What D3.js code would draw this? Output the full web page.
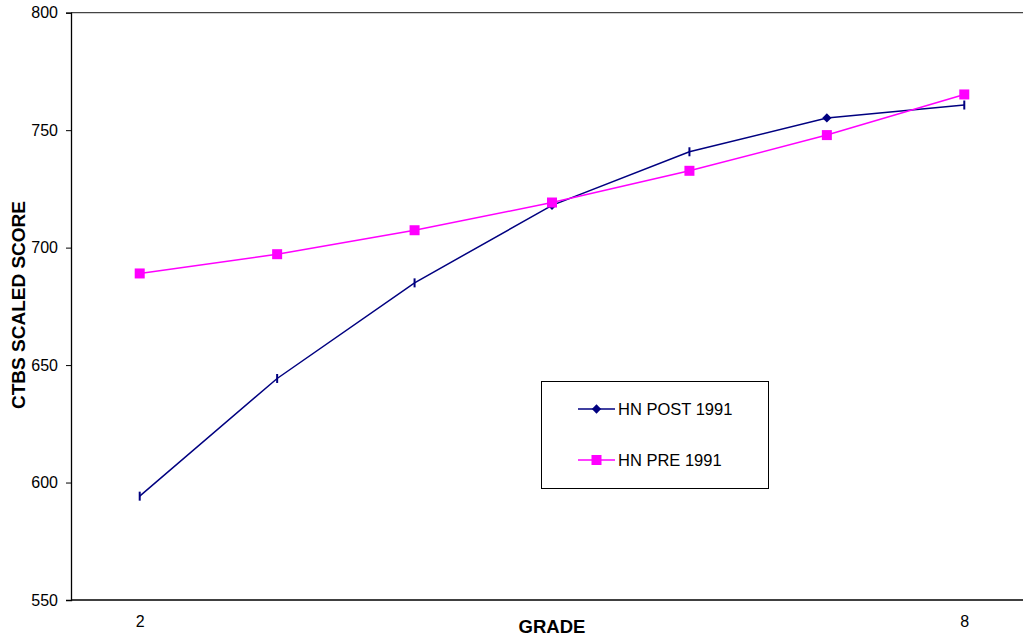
<!DOCTYPE html>
<html><head><meta charset="utf-8">
<script src="https://cdn.jsdelivr.net/npm/d3@7"></script>
<style>body{margin:0;background:#fff}svg{display:block}text{font-family:"Liberation Sans",Arial,sans-serif}</style>
</head><body>
<script>
const grades = ["2","3","4","5","6","7","8"];
const postValues = [594.2, 644.3, 685.0, 718.0, 740.8, 755.2, 760.7];
const preValues = [689.0, 697.2, 707.4, 719.2, 732.7, 747.9, 765.2];
const postMarkers = ["tick","tick","tick","diamond","tick","diamond","tick"];
const yTicks = [550, 600, 650, 700, 750, 800];
const xTickLabels = ["2","8"];
const seriesNames = ["HN POST 1991","HN PRE 1991"];

const W = 1023, H = 640;
const svg = d3.select("body").append("svg").attr("width", W).attr("height", H);
const pLeft = 71, pTop = 12.7, pBottom = 600, pRight = 1033;
const x = d3.scalePoint().domain(grades).range([pLeft, pRight]).padding(0.5);
const y = d3.scaleLinear().domain([550, 800]).range([pBottom, pTop]);

// top border
svg.append("line").attr("x1", pLeft).attr("x2", W).attr("y1", pTop).attr("y2", pTop)
  .attr("stroke", "#444").attr("stroke-width", 1.2);

// y axis
const yAxis = svg.append("g").attr("transform", `translate(${pLeft},0)`)
  .call(d3.axisLeft(y).tickValues(yTicks).tickSize(5).tickPadding(8).tickFormat(d3.format("d")));
yAxis.select(".domain").attr("stroke", "#000").attr("stroke-width", 1.3);
yAxis.selectAll("text").attr("font-size", 16).attr("fill", "#000");

// x axis
const xAxis = svg.append("g").attr("transform", `translate(0,${pBottom})`)
  .call(d3.axisBottom(x).tickValues(xTickLabels).tickSize(0).tickPadding(16));
xAxis.select(".domain").attr("stroke", "#000").attr("stroke-width", 1.3).attr("d", `M${pLeft},0H${W}`);
xAxis.selectAll("text").attr("font-size", 16).attr("fill", "#000");

svg.append("text").attr("x", (x("5"))).attr("y", 633).attr("text-anchor", "middle")
  .attr("font-size", 18.5).attr("font-weight", "bold").text("GRADE");
svg.append("text").attr("transform", `translate(25,305) rotate(-90)`).attr("text-anchor", "middle")
  .attr("font-size", 19).attr("font-weight", "bold").text("CTBS SCALED SCORE");

const line = d3.line().x((d, i) => x(grades[i])).y(d => y(d));
const navy = "#000080", mag = "#FF00FF";

svg.append("path").datum(postValues).attr("d", line).attr("fill", "none").attr("stroke", navy).attr("stroke-width", 1.5);
svg.append("path").datum(preValues).attr("d", line).attr("fill", "none").attr("stroke", mag).attr("stroke-width", 1.5);

const diamond = d3.symbol().type(d3.symbolDiamond2).size(55);
postValues.forEach((v, i) => {
  const cx = x(grades[i]), cy = y(v);
  if (postMarkers[i] === "diamond") {
    svg.append("path").attr("d", diamond()).attr("transform", `translate(${cx},${cy})`).attr("fill", navy);
  } else {
    svg.append("line").attr("x1", cx).attr("x2", cx).attr("y1", cy - 4.5).attr("y2", cy + 4.5)
      .attr("stroke", navy).attr("stroke-width", 2);
  }
});
preValues.forEach((v, i) => {
  svg.append("rect").attr("x", x(grades[i]) - 5).attr("y", y(v) - 5).attr("width", 10).attr("height", 10).attr("fill", mag);
});

// legend
const lg = svg.append("g");
lg.append("rect").attr("x", 541.5).attr("y", 381.5).attr("width", 227).attr("height", 107)
  .attr("fill", "#fff").attr("stroke", "#000").attr("stroke-width", 1);
const rows = [{name: seriesNames[0], c: navy, m: "diamond", yy: 409}, {name: seriesNames[1], c: mag, m: "square", yy: 460}];
rows.forEach(r => {
  lg.append("line").attr("x1", 578).attr("x2", 615).attr("y1", r.yy).attr("y2", r.yy).attr("stroke", r.c).attr("stroke-width", 1.5);
  if (r.m === "diamond") lg.append("path").attr("d", diamond()).attr("transform", `translate(596.5,${r.yy})`).attr("fill", r.c);
  else lg.append("rect").attr("x", 591.5).attr("y", r.yy - 5).attr("width", 10).attr("height", 10).attr("fill", r.c);
  lg.append("text").attr("x", 618).attr("y", r.yy + 6).attr("font-size", 16.5).text(r.name);
});
</script>
</body></html>
